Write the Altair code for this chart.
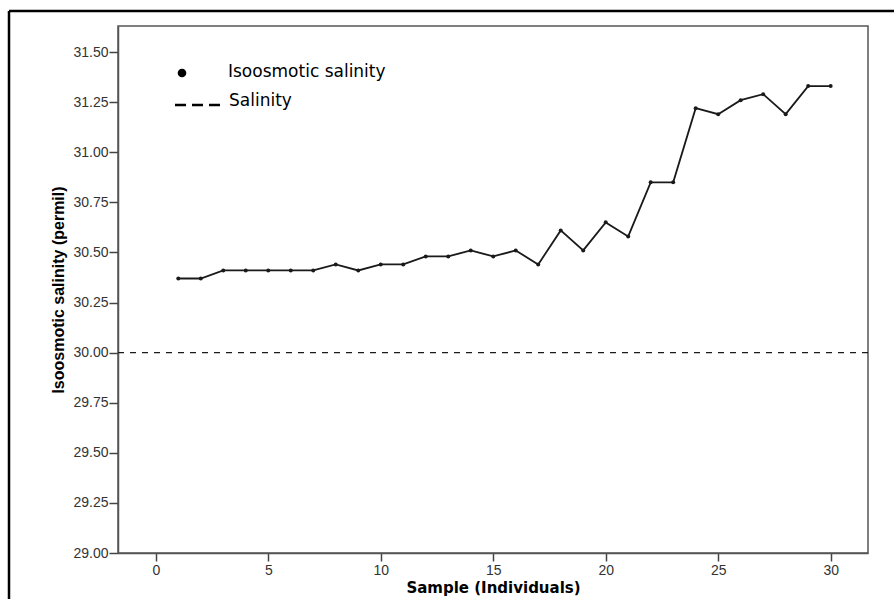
import altair as alt
import pandas as pd

# ---- data ----
samples = list(range(1, 31))
isoosmotic = [30.37, 30.37, 30.41, 30.41, 30.41, 30.41, 30.41, 30.44, 30.41, 30.44,
              30.44, 30.48, 30.48, 30.51, 30.48, 30.51, 30.44, 30.61, 30.51, 30.65,
              30.58, 30.85, 30.85, 31.22, 31.19, 31.26, 31.29, 31.19, 31.33, 31.33]
salinity_level = [30.0]
x_ticks = [0, 5, 10, 15, 20, 25, 30]
y_ticks = [29.0, 29.25, 29.5, 29.75, 30.0, 30.25, 30.5, 30.75, 31.0, 31.25, 31.5]
legend_labels = ["Isoosmotic salinity", "Salinity"]

df = pd.DataFrame({"sample": samples, "value": isoosmotic})
ref = pd.DataFrame({"value": salinity_level})
one = pd.DataFrame({"k": [0]})

W, H = 750, 527
INK = "#1a1a1a"

common_axis = dict(grid=False, labelFont="Liberation Sans", labelFontSize=14,
                   labelColor="#333333", tickColor="#444444", tickWidth=1.5,
                   domainColor="#555555", domainWidth=1.5,
                   titleFontWeight="bold", titleColor="black")

x_enc = alt.X("sample:Q",
              scale=alt.Scale(domain=[-1.68, 31.66], nice=False, zero=False),
              axis=alt.Axis(values=x_ticks, title="Sample (Individuals)", format="d",
                            tickSize=8, labelPadding=2, titlePadding=3,
                            titleFont="DejaVu Sans", titleFontSize=15, **common_axis))
y_enc = alt.Y("value:Q",
              scale=alt.Scale(domain=[29.0, 31.63], nice=False, zero=False),
              axis=alt.Axis(values=y_ticks, format=".2f",
                            title="Isoosmotic salinity (permil)",
                            tickSize=9, labelPadding=1, titlePadding=6,
                            titleFont="Liberation Sans", titleFontSize=16, **common_axis))

line = alt.Chart(df).mark_line(color=INK, strokeWidth=1.8).encode(x=x_enc, y=y_enc)
pts = alt.Chart(df).mark_point(filled=True, color=INK, size=16, opacity=1).encode(x="sample:Q", y="value:Q")
rule = alt.Chart(ref).mark_rule(color=INK, strokeWidth=1.3, strokeDash=[6, 6]).encode(y="value:Q")

# legend (drawn inside the plot)
leg_dot = alt.Chart(one).mark_point(filled=True, color="black", size=75, opacity=1).encode(
    x=alt.value(64), y=alt.value(47))
leg_txt1 = alt.Chart(one).mark_text(align="left", baseline="middle", font="DejaVu Sans",
                                    fontSize=17, color="black").encode(
    x=alt.value(110), y=alt.value(46), text=alt.value(legend_labels[0]))
leg_dash = alt.Chart(one).mark_rule(color="black", strokeWidth=2.5, strokeDash=[11, 6]).encode(
    x=alt.value(57), x2=alt.value(102), y=alt.value(79))
leg_txt2 = alt.Chart(one).mark_text(align="left", baseline="middle", font="DejaVu Sans",
                                    fontSize=17, color="black").encode(
    x=alt.value(111), y=alt.value(75), text=alt.value(legend_labels[1]))

# outer picture border
border_top = alt.Chart(one).mark_rule(color="black", strokeWidth=2.5).encode(
    x=alt.value(-109), x2=alt.value(800), y=alt.value(-15))
border_left = alt.Chart(one).mark_rule(color="black", strokeWidth=2.5).encode(
    x=alt.value(-109), y=alt.value(-15), y2=alt.value(600))

chart = alt.layer(line, pts, rule, leg_dot, leg_txt1, leg_dash, leg_txt2,
                  border_top, border_left).properties(
    width=W, height=H,
    background="white",
    autosize=alt.AutoSizeParams(type="none"),
    padding={"left": 118, "top": 26, "right": 26, "bottom": 46},
).configure_view(
    stroke="#555555", strokeWidth=1.5, fill="white"
)

chart.save("out.html", embed_options={"renderer": "svg", "actions": False})
